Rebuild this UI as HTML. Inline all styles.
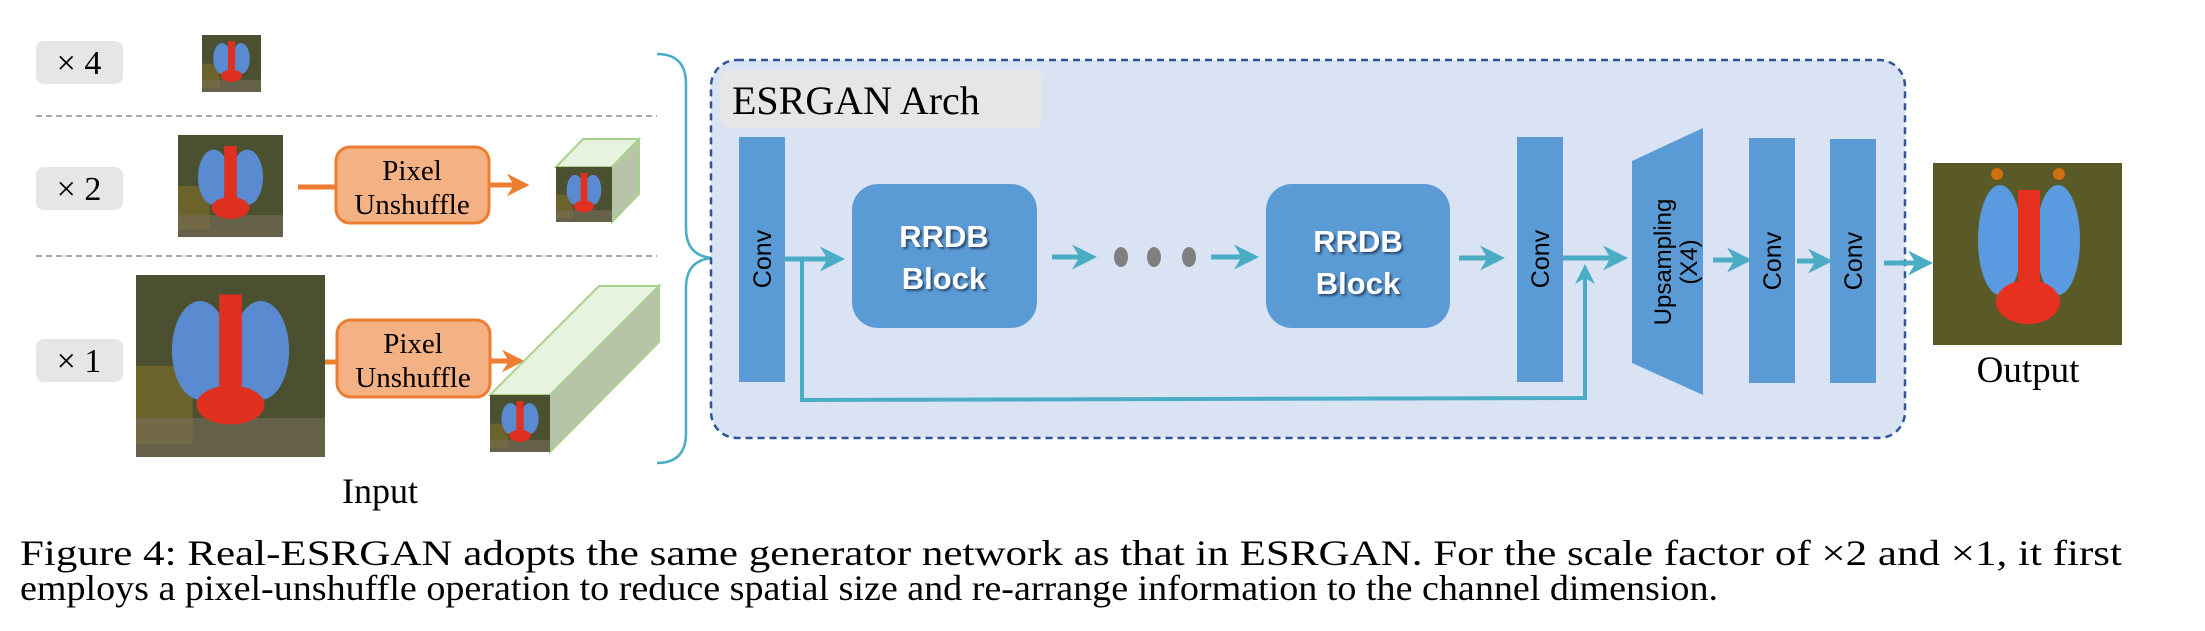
<!DOCTYPE html>
<html><head><meta charset="utf-8"><style>html,body{margin:0;padding:0;background:#fff;}svg{display:block}
.serif{font-family:"Liberation Serif","Times New Roman",serif;}
.sans{font-family:"Liberation Sans",Arial,sans-serif;}
</style></head>
<body>
<svg width="2205" height="631" viewBox="0 0 2205 631" xmlns="http://www.w3.org/2000/svg">
<defs>
<symbol id="bab" viewBox="0 0 100 140" preserveAspectRatio="none">
<rect width="100" height="140" fill="#4a5030"/>
<rect x="0" y="70" width="30" height="60" fill="#7a6a2a" opacity="0.7"/>
<rect x="0" y="110" width="100" height="30" fill="#7a6e5a" opacity="0.6"/>
<ellipse cx="34" cy="58" rx="15" ry="38" fill="#5a8ad0"/>
<ellipse cx="66" cy="58" rx="15" ry="38" fill="#5a8ad0"/>
<rect x="44" y="15" width="12" height="75" fill="#e03020"/>
<ellipse cx="50" cy="100" rx="18" ry="15" fill="#e03020"/>
</symbol>
<marker id="ah" viewBox="0 0 10 10" refX="8" refY="5" markerWidth="5" markerHeight="5" orient="auto"><path d="M0,0 L10,5 L0,10 L3,5 z" fill="#4bacc6"/></marker>
<marker id="ao" viewBox="0 0 10 10" refX="8" refY="5" markerWidth="4.5" markerHeight="4.5" orient="auto"><path d="M0,0 L10,5 L0,10 L3,5 z" fill="#ed7d31"/></marker>
</defs>

<g class="serif" font-size="34" fill="#000">
<rect x="36" y="41" width="87" height="43" rx="8" fill="#e6e6e6"/><text x="79" y="74" text-anchor="middle">× 4</text>
<rect x="36" y="167" width="87" height="43" rx="8" fill="#e6e6e6"/><text x="79" y="200" text-anchor="middle">× 2</text>
<rect x="36" y="339" width="87" height="43" rx="8" fill="#e6e6e6"/><text x="79" y="372" text-anchor="middle">× 1</text>
</g>
<line x1="36" y1="116" x2="657" y2="116" stroke="#aaa" stroke-width="2" stroke-dasharray="6,4"/>
<line x1="36" y1="256" x2="657" y2="256" stroke="#aaa" stroke-width="2" stroke-dasharray="6,4"/>

<use href="#bab" x="202" y="35" width="59" height="57"/>
<use href="#bab" x="178" y="135" width="105" height="102"/>
<use href="#bab" x="136" y="275" width="189" height="182"/>

<line x1="298" y1="187" x2="337" y2="187" stroke="#ed7d31" stroke-width="5"/>
<line x1="489" y1="185" x2="525" y2="185" stroke="#ed7d31" stroke-width="5" marker-end="url(#ao)"/>
<rect x="336" y="147" width="153" height="76" rx="14" fill="#f4b183" stroke="#ed7d31" stroke-width="3"/>
<line x1="325" y1="362" x2="338" y2="362" stroke="#ed7d31" stroke-width="5"/>
<line x1="490" y1="361" x2="520" y2="361" stroke="#ed7d31" stroke-width="5" marker-end="url(#ao)"/>
<rect x="337" y="320" width="153" height="77" rx="14" fill="#f4b183" stroke="#ed7d31" stroke-width="3"/>
<g class="serif" font-size="29" fill="#000" text-anchor="middle">
<text x="412" y="180">Pixel</text><text x="412" y="214">Unshuffle</text>
<text x="413" y="353">Pixel</text><text x="413" y="387">Unshuffle</text>
</g>

<g stroke="#a9d18e" stroke-width="2">
<polygon points="556,167 583,139 639,139 612,167" fill="#e8f3df"/>
<polygon points="612,167 639,139 639,194 612,222" fill="#b8c4a8"/>
<polygon points="490,395 599,286 659,286 550,395" fill="#e8f3df"/>
<polygon points="550,395 659,286 659,342 550,452" fill="#b8c4a8"/>
</g>
<use href="#bab" x="556" y="167" width="56" height="55"/>
<use href="#bab" x="490" y="395" width="60" height="57"/>

<path d="M657,54 Q686,54 686,84 L686,228 Q686,258 716,258 Q686,258 686,288 L686,433 Q686,463 657,463" fill="none" stroke="#4bacc6" stroke-width="2.5"/>

<text class="serif" x="380" y="503" font-size="36" text-anchor="middle">Input</text>

<rect x="711" y="60" width="1194" height="378" rx="26" fill="#dae3f3" stroke="#2f5597" stroke-width="2.5" stroke-dasharray="7,5"/>
<rect x="721" y="70" width="321" height="58" rx="8" fill="#e6e6e6"/>
<text class="serif" x="732" y="114" font-size="40">ESRGAN Arch</text>

<g fill="#5b9bd5">
<rect x="739" y="137" width="46" height="245"/>
<rect x="852" y="184" width="185" height="144" rx="26"/>
<rect x="1266" y="184" width="184" height="144" rx="26"/>
<rect x="1517" y="137" width="46" height="245"/>
<polygon points="1632,161 1703,128 1703,395 1632,363"/>
<rect x="1749" y="138" width="46" height="245"/>
<rect x="1830" y="139" width="46" height="244"/>
</g>
<g class="sans" font-size="25" fill="#000" text-anchor="middle">
<text transform="translate(771,259) rotate(-90)">Conv</text>
<text transform="translate(1549,259) rotate(-90)">Conv</text>
<text transform="translate(1781,261) rotate(-90)">Conv</text>
<text transform="translate(1862,261) rotate(-90)">Conv</text>
<text transform="translate(1671,262) rotate(-90)" font-size="24">Upsampling</text>
<text transform="translate(1697,262) rotate(-90)" font-size="24">(X4)</text>
</g>
<g class="sans" font-size="31" font-weight="bold" fill="#fff" text-anchor="middle" style="text-shadow:2px 2px 2px #2a4a70">
<text x="944" y="247">RRDB</text><text x="944" y="289">Block</text>
<text x="1358" y="252">RRDB</text><text x="1358" y="294">Block</text>
</g>

<g stroke="#4bacc6" stroke-width="5" fill="none">
<line x1="785" y1="259" x2="840" y2="259" marker-end="url(#ah)"/>
<line x1="1052" y1="257" x2="1092" y2="257" marker-end="url(#ah)"/>
<line x1="1211" y1="257" x2="1254" y2="257" marker-end="url(#ah)"/>
<line x1="1459" y1="258" x2="1500" y2="258" marker-end="url(#ah)"/>
<line x1="1563" y1="258" x2="1623" y2="258" marker-end="url(#ah)"/>
<line x1="1713" y1="260" x2="1747" y2="260" marker-end="url(#ah)"/>
<line x1="1797" y1="261" x2="1828" y2="261" marker-end="url(#ah)"/>
<line x1="1884" y1="263" x2="1928" y2="263" marker-end="url(#ah)"/>
<polyline points="802,260 802,400 1585,398 1585,268" stroke-width="4" marker-end="url(#ah)"/>
</g>
<g fill="#7f7f7f">
<ellipse cx="1121" cy="257" rx="7" ry="10"/><ellipse cx="1154" cy="257" rx="7" ry="10"/><ellipse cx="1189" cy="257" rx="7" ry="10"/>
</g>

<rect x="1933" y="163" width="189" height="182" fill="#5a5a28"/>
<ellipse cx="2000" cy="240" rx="22" ry="55" fill="#5a9ae0"/>
<ellipse cx="2058" cy="240" rx="22" ry="55" fill="#5a9ae0"/>
<rect x="2018" y="190" width="22" height="110" fill="#e83020"/>
<ellipse cx="2028" cy="302" rx="32" ry="22" fill="#e83020"/>
<circle cx="1997" cy="174" r="6" fill="#d07010"/><circle cx="2059" cy="174" r="6" fill="#d07010"/>
<text class="serif" x="2028" y="382" font-size="37" text-anchor="middle">Output</text>

<g class="serif" font-size="36" fill="#000">
<text x="20" y="565" textLength="2102" lengthAdjust="spacingAndGlyphs">Figure 4: Real-ESRGAN adopts the same generator network as that in ESRGAN. For the scale factor of ×2 and ×1, it first</text>
<text x="20" y="600" textLength="1698" lengthAdjust="spacingAndGlyphs">employs a pixel-unshuffle operation to reduce spatial size and re-arrange information to the channel dimension.</text>
</g>
</svg>
</body></html>
